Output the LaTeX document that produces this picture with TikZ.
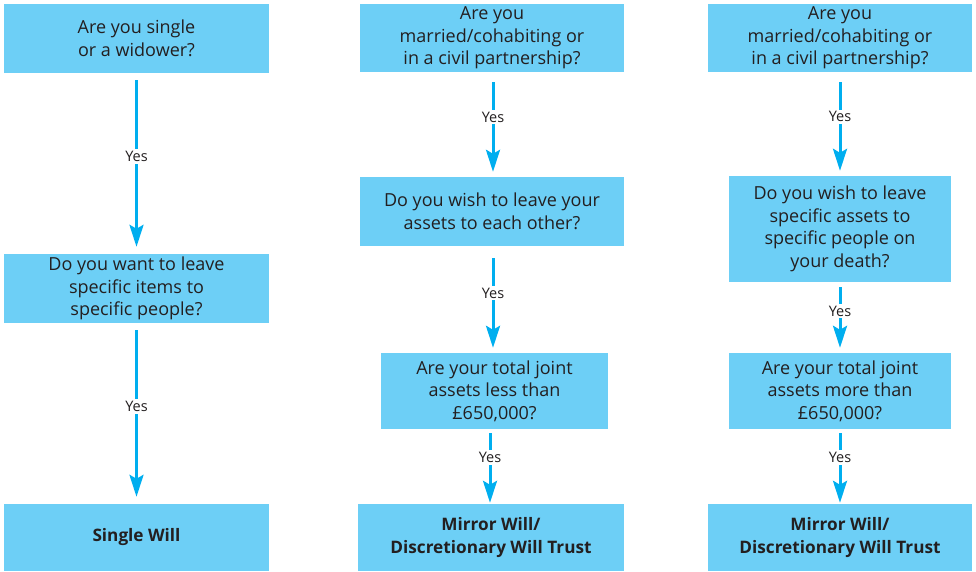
\documentclass[tikz,border=0pt]{standalone}
\usepackage{fontspec}
\setmainfont{Open Sans}
\usetikzlibrary{arrows.meta}
\definecolor{boxblue}{HTML}{6DCFF6}
\definecolor{arrblue}{HTML}{00AEEF}
\definecolor{txt}{HTML}{231F20}
\tikzset{
  qbox/.style={fill=boxblue, draw=none, align=center, text=txt, inner sep=0pt,
    font=\fontsize{18}{22.5}\selectfont},
  abox/.style={qbox, font=\fontsize{17.2}{23}\selectfont\bfseries},
  arr/.style={draw=arrblue, line width=3pt, -{Stealth[length=22pt,width=14pt,inset=4pt]}},
  yes/.style={fill=white, text=txt, inner sep=2pt, font=\fontsize{14.5}{16}\selectfont}
}
\begin{document}
\begin{tikzpicture}[x=1pt,y=-1pt]
\useasboundingbox (0,0) rectangle (976,571);
% column 1
\node[qbox, minimum width=265pt, minimum height=69pt] (a1) at (136.5,38.5) {Are you single\\or a widower?};
\node[qbox, minimum width=265pt, minimum height=69pt] (a2) at (136.5,288.5) {Do you want to leave\\specific items to\\specific people?};
\node[abox, minimum width=265pt, minimum height=67pt] (a3) at (136.5,537.5) {Single Will};
% column 2
\node[qbox, minimum width=264pt, minimum height=68pt] (b1) at (492,38) {Are you\\married/cohabiting or\\in a civil partnership?};
\node[qbox, minimum width=264pt, minimum height=69pt] (b2) at (492,211.5) {Do you wish to leave your\\assets to each other?};
\node[qbox, minimum width=227pt, minimum height=76pt] (b3) at (494.5,391) {Are your total joint\\assets less than\\£650,000?};
\node[abox, minimum width=266pt, minimum height=67pt] (b4) at (491,537.5) {Mirror Will/\\Discretionary Will Trust};
% column 3
\node[qbox, minimum width=264pt, minimum height=68pt] (c1) at (840,38) {Are you\\married/cohabiting or\\in a civil partnership?};
\node[qbox, minimum width=222pt, minimum height=106pt] (c2) at (840,229) {Do you wish to leave\\specific assets to\\specific people on\\your death?};
\node[qbox, minimum width=222pt, minimum height=76pt] (c3) at (840,391) {Are your total joint\\assets more than\\£650,000?};
\node[abox, minimum width=264pt, minimum height=67pt] (c4) at (840,537.5) {Mirror Will/\\Discretionary Will Trust};
% arrows
\draw[arr, shorten <=7pt, shorten >=7pt] (a1) -- (a2) node[yes, pos=0.46] {Yes};
\draw[arr, shorten <=7pt, shorten >=7pt] (a2) -- (a3) node[yes, pos=0.46] {Yes};
\draw[arr, shorten <=10pt, shorten >=5pt] (b1.south -| 493,0) -- (b2.north -| 493,0) node[yes, pos=0.43] {Yes};
\draw[arr, shorten <=12pt, shorten >=5pt] (b2.south -| 493,0) -- (b3.north -| 493,0) node[yes, pos=0.44] {Yes};
\draw[arr, shorten <=4pt, shorten >=1pt] (b3.south -| 490,0) -- (b4.north -| 490,0) node[yes, pos=0.38] {Yes};
\draw[arr, shorten <=10pt, shorten >=5pt] (c1) -- (c2) node[yes, pos=0.43] {Yes};
\draw[arr, shorten <=5pt, shorten >=5pt] (c2) -- (c3) node[yes, pos=0.41] {Yes};
\draw[arr, shorten <=4pt, shorten >=1pt] (c3) -- (c4) node[yes, pos=0.38] {Yes};
\end{tikzpicture}
\end{document}
